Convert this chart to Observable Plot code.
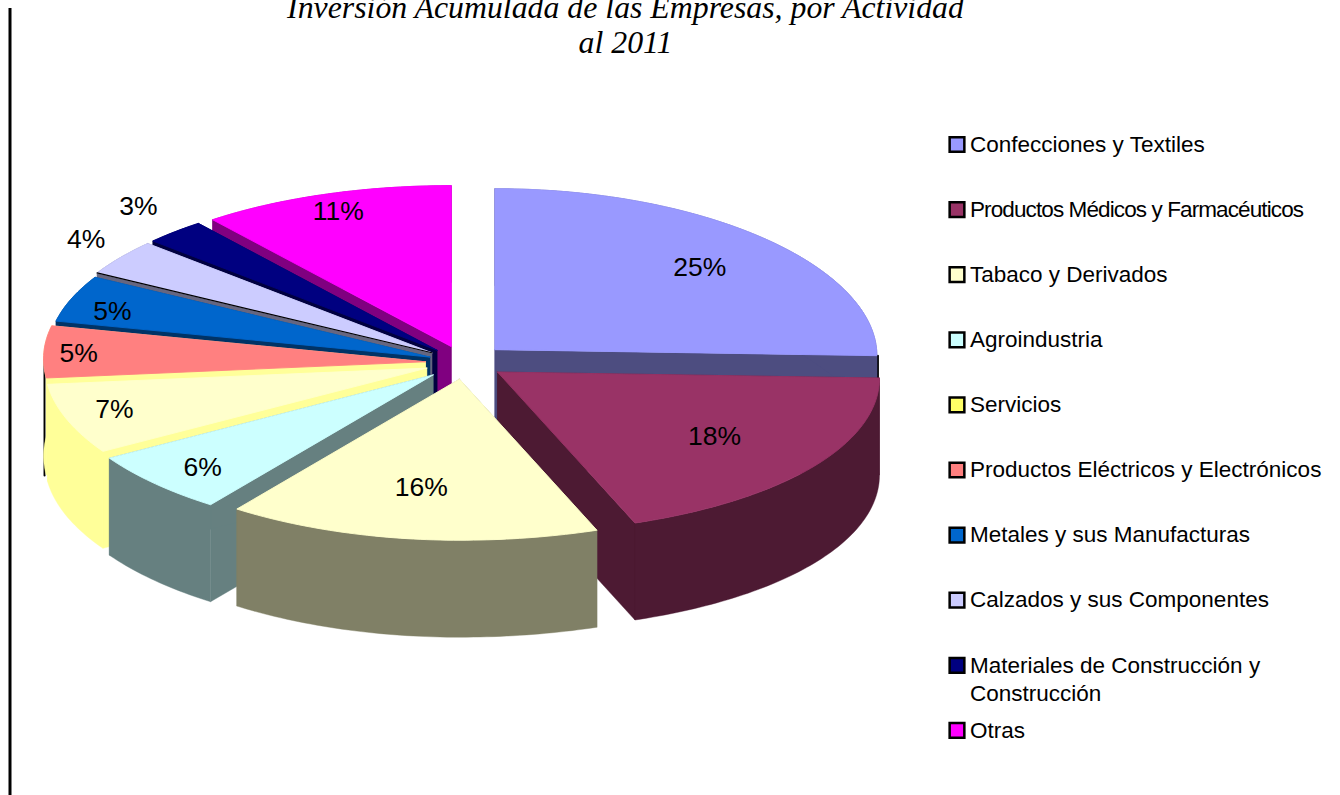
<!DOCTYPE html>
<html><head><meta charset="utf-8">
<script src="https://cdn.jsdelivr.net/npm/d3@7"></script>
<script src="https://cdn.jsdelivr.net/npm/@observablehq/plot@0.6"></script>
<style>html,body{margin:0;padding:0;background:#fff}svg{display:block}</style>
</head><body><div id="chart"></div>
<script>
const titleLines = ["Inversión Acumulada de las Empresas, por Actividad", "al 2011"];
const categories = ["Confecciones y Textiles","Productos Médicos y Farmacéuticos","Tabaco y Derivados","Agroindustria","Servicios","Productos Eléctricos y Electrónicos","Metales y sus Manufacturas","Calzados y sus Componentes","Materiales de Construcción y|Construcción","Otras"];
const values = [25, 19.14, 15.76, 6.2, 7, 5.2, 4.7, 3.65, 2.61, 10.74];
const percentLabels = ["25%","18%","16%","6%","7%","5%","5%","4%","3%","11%"];
const topColors = ["#9999FF","#993366","#FFFFCC","#CCFFFF","#FFFFCC","#FF8080","#0066CC","#CCCCFF","#000080","#FF00FF"];
const sideColors = ["#4D4D80","#4D1A33","#808066","#668080","#FFFF99","#FFFF99","#003366","#666680","#000040","#800080"];
const legendColors = ["#9999FF","#993366","#FFFFCC","#CCFFFF","#FFFF66","#FF8080","#0066CC","#CCCCFF","#000080","#FF00FF"];
const explodeBy = [43,40,40,43,40,39,37,40,40,40];
const labelRadius = [0.731,0.703,0.692,0.842,0.861,0.909,0.873,1.138,1.177,0.877];
const labelAngle = [47.2,126.1,188.3,225.8,251.7,272.5,287.9,307.3,318.4,340.3];
const drawOrder = [9,8,0,7,6,5,4,1,3,2];
const blackEdges = [[0,90,90,1],[5,270,263,1]];

// projection of the exploded 3-D pie
const cx=464, cy=362, rx=382, ry=161, depth=97, tilt=ry/rx, bendL=3, bendR=6, labelShift=-2;
const rad=d=>d*Math.PI/180;
let cum=0;
const slices=values.map((v,i)=>{
  const a0=cum*3.6; cum+=v; const a1=cum*3.6, mid=(a0+a1)/2, e=explodeBy[i];
  const ax=cx+e*Math.sin(rad(mid)), ay=cy-e*tilt*Math.cos(rad(mid));
  const pt=a=>{const sn=Math.sin(rad(a));return {x:ax+rx*sn,y:ay-ry*Math.cos(rad(a))+(sn<0?-bendL:bendR)*sn*sn}};
  const arc=[];for(let a=a0;a<a1;a+=1)arc.push(pt(a));arc.push(pt(a1));
  return {i,a0,a1,mid,ax,ay,pt,arc,top:topColors[i],side:sideColors[i]};
});
const down=p=>({x:p.x,y:p.y+depth});
const poly=(pts,fill,sw=0.4)=>Plot.line([...pts,pts[0]],{x:"x",y:"y",fill,stroke:fill,strokeWidth:sw,curve:"linear"});

const marks=[];
marks.push(Plot.ruleX([9.5],{y1:8,y2:795,stroke:"#000",strokeWidth:3}));
for(const k of drawOrder){
  const s=slices[k], A={x:s.ax,y:s.ay};
  for(const [e,aFrom,aTo,off] of blackEdges) if(e===k){
    const p=s.pt(aFrom), q=s.pt(aTo);
    marks.push(Plot.line([{x:p.x+off,y:p.y},{x:p.x+off,y:q.y+depth}],{x:"x",y:"y",stroke:"#000",strokeWidth:2}));
  }
  const p0=s.arc[0], p1=s.arc[s.arc.length-1];
  marks.push(poly([A,p0,down(p0),down(A)],s.side));
  marks.push(poly([A,p1,down(p1),down(A)],s.side));
  marks.push(poly([...s.arc,...s.arc.map(down).reverse()],s.side));
  marks.push(poly([A,...s.arc],s.top,0.9));
  if(k===7) marks.push(Plot.line([A,p0],{x:"x",y:"y",stroke:"#000",strokeWidth:1.2}));
}
// percent labels
marks.push(Plot.text(slices,{
  x:s=>s.ax+labelRadius[s.i]*rx*Math.sin(rad(labelAngle[s.i])),
  y:s=>s.ay-labelRadius[s.i]*ry*Math.cos(rad(labelAngle[s.i]))+labelShift,
  text:s=>percentLabels[s.i],
  fontSize:26.5,fill:"#000",fontFamily:"Liberation Sans",textAnchor:"middle",lineAnchor:"middle"
}));
// title
marks.push(Plot.text(titleLines,{
  x:()=>625,y:(d,i)=>7+i*35,text:d=>d,
  fontSize:31.8,fontStyle:"italic",fontFamily:"Liberation Serif",fill:"#000",textAnchor:"middle",lineAnchor:"middle"
}));
// legend
const legendY=categories.map((c,i)=>144+i*65.1);
marks.push(Plot.dot(categories,{
  x:()=>956.5,y:(d,i)=>legendY[i],symbol:"square",r:8.3,
  fill:(d,i)=>legendColors[i],stroke:"#000",strokeWidth:2.5
}));
const legendLines=categories.flatMap((c,i)=>c.split("|").map((t,j)=>({t,y:legendY[i]+j*28})));
marks.push(Plot.text(legendLines,{
  x:()=>969.5,y:"y",text:"t",fontSize:22.5,fontFamily:"Liberation Sans",fill:"#000",textAnchor:"start",lineAnchor:"middle"
}));

const chart=Plot.plot({
  width:1340,height:795,margin:0,
  x:{domain:[0,1340],range:[0,1340],axis:null},
  y:{domain:[0,795],range:[0,795],axis:null},
  color:{type:"identity"},
  style:{background:"#fff"},
  marks
});
d3.select(chart).selectAll("text").filter(function(){return this.textContent===categories[1]})
  .attr("textLength",334).attr("lengthAdjust","spacing");
document.getElementById("chart").append(chart);
</script></body></html>
